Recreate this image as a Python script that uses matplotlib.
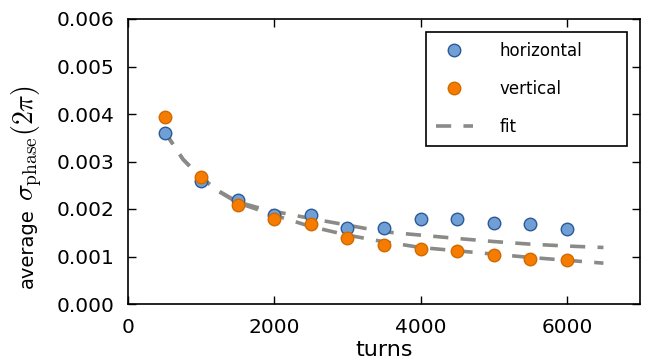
import matplotlib
matplotlib.use("Agg")
import matplotlib.pyplot as plt

# Measured phase spread per turn count
turns = [500, 1000, 1500, 2000, 2500, 3000, 3500, 4000, 4500, 5000, 5500, 6000]
horizontal = [0.00361, 0.00259, 0.00218, 0.00187, 0.00187, 0.00159,
              0.00161, 0.00180, 0.00179, 0.00170, 0.00168, 0.00158]
vertical = [0.00393, 0.00267, 0.00208, 0.00178, 0.00168, 0.00139,
            0.00125, 0.00116, 0.00111, 0.00103, 0.00095, 0.00093]

# Fitted curves evaluated on a turn grid
fit_turns = [500, 750, 1000, 1250, 1500, 1750, 2000, 2500, 3000, 3500,
             4000, 4500, 5000, 5500, 6000, 6500]
fit_horizontal = [0.00363, 0.00305, 0.00266, 0.00237, 0.00215, 0.00204,
                  0.00195, 0.00180, 0.00166, 0.00152, 0.00145, 0.00138,
                  0.001315, 0.00126, 0.00122, 0.00119]
fit_vertical = [0.00363, 0.00305, 0.00265, 0.00236, 0.00213, 0.00200,
                0.00187, 0.00163, 0.00145, 0.00131, 0.00119, 0.00112,
                0.00105, 0.00098, 0.00092, 0.00086]

x_ticks = [0, 2000, 4000, 6000]
y_ticks = [0.000, 0.001, 0.002, 0.003, 0.004, 0.005, 0.006]

plt.rcParams["font.family"] = ["DejaVu Sans"]
plt.rcParams["mathtext.fontset"] = "cm"

W, H = 652, 363
fig = plt.figure(figsize=(W / 100, H / 100), dpi=100)
ax = fig.add_axes([128 / W, 59 / H, 512 / W, 285 / H])

fit_style = dict(color="#8a8a87", lw=2.6, dashes=(4.2, 3.4))
ax.plot(fit_turns, fit_horizontal, **fit_style, zorder=2)
ax.plot(fit_turns, fit_vertical, **fit_style, zorder=2, label="fit")

ax.plot(turns, horizontal, "o", ms=9, mfc="#6f9fd4", mec="#2b5a98", mew=1.0,
        label="horizontal", zorder=3)
ax.plot(turns, vertical, "o", ms=9, mfc="#f57c00", mec="#d06a00", mew=1.0,
        label="vertical", zorder=3)

ax.set_xlim(0, 7000)
ax.set_ylim(0, 0.006)
ax.set_xticks(x_ticks)
ax.set_yticks(y_ticks)
ax.set_yticklabels([f"{v:.3f}" for v in y_ticks])
ax.tick_params(direction="in", top=True, right=True, length=6, width=1,
               labelsize=14.5, pad=10)
for s in ax.spines.values():
    s.set_linewidth(1.2)

ax.set_xlabel("turns", fontsize=16, labelpad=2)

# y label: sans word followed by a math expression on the same baseline
renderer = fig.canvas.get_renderer()
base_x = 33 / W
word = fig.text(base_x, 75 / H, "average", rotation=90, rotation_mode="anchor",
                ha="left", va="baseline", fontsize=14)
top = 75 + word.get_window_extent(renderer).height + 7
fig.text(base_x, top / H, r"$\sigma_{\rm phase}(2\pi)$", rotation=90,
         rotation_mode="anchor", ha="left", va="baseline", fontsize=20)

handles, labels = ax.get_legend_handles_labels()
order = [labels.index("horizontal"), labels.index("vertical"), labels.index("fit")]
leg = ax.legend([handles[i] for i in order], [labels[i] for i in order],
                loc="upper left", mode="expand",
                bbox_to_anchor=(426 / W, 1 - 32 / H, 201 / W, 0.0),
                bbox_transform=fig.transFigure, fontsize=12, numpoints=1,
                labelspacing=1.2, handlelength=2.2, handletextpad=1.6,
                borderpad=0.6, borderaxespad=0, fancybox=False, framealpha=1)
leg.get_frame().set_edgecolor("black")
leg.get_frame().set_linewidth(1.2)

fig.savefig("out.png", dpi=100)
